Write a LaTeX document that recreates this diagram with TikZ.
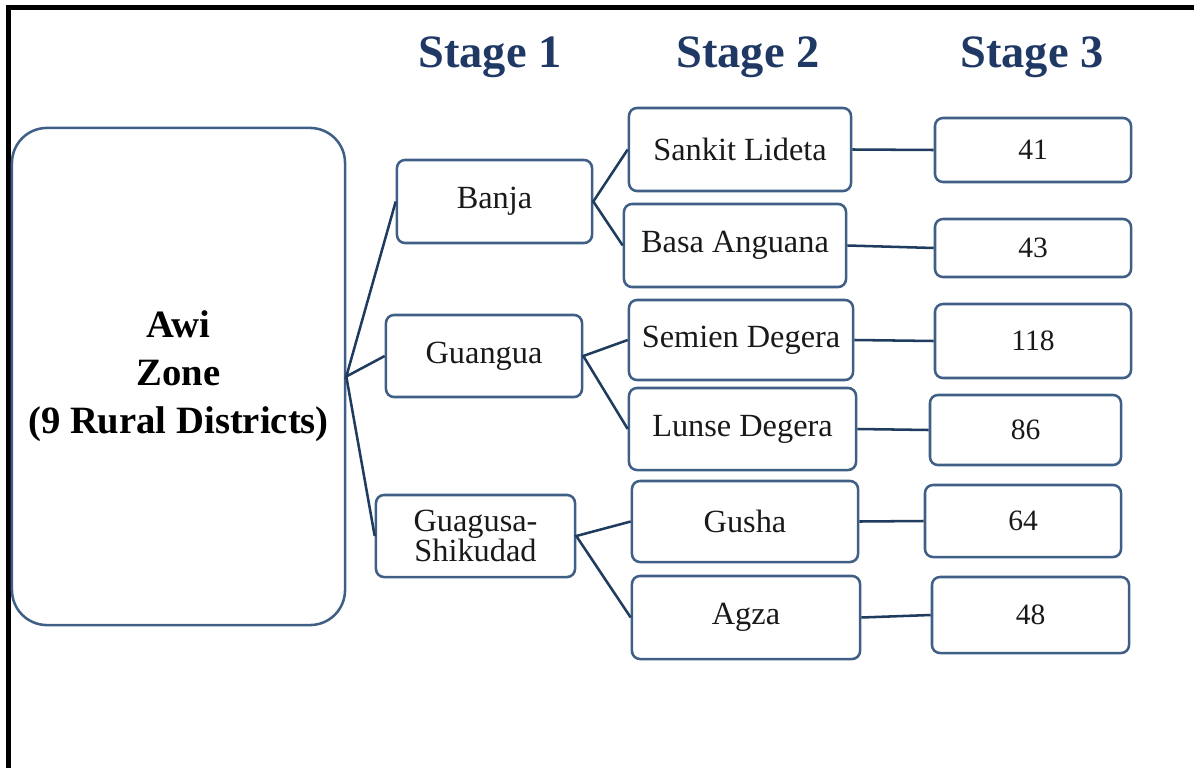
\documentclass[tikz,border=0pt]{standalone}
\usepackage{fontspec}
\setmainfont{Liberation Serif}
\definecolor{boxline}{HTML}{3F5F86}
\definecolor{linkline}{HTML}{1F3B5E}
\definecolor{stagetext}{HTML}{1F3864}
\tikzset{
  box/.style={draw=boxline,line width=1.8pt,rounded corners=0.2cm,inner sep=0pt,
    align=center,text=black!90,font=\fontsize{23}{20.5}\selectfont},
  numbox/.style={box,font=\fontsize{21}{21}\selectfont},
  bigbox/.style={draw=boxline,line width=1.8pt,rounded corners=0.875cm,inner sep=0pt,
    align=center,font=\bfseries\fontsize{27.5}{34}\selectfont},
  stagehead/.style={text=stagetext,font=\bfseries\fontsize{33}{33}\selectfont},
  link/.style={draw=linkline,line width=1.8pt}
}
\begin{document}
\begin{tikzpicture}[x=0.025cm,y=-0.025cm]
  \useasboundingbox (0,0) rectangle (1194,768);
  \draw[line width=3.6pt] (8.5,768) -- (8.5,7.5) -- (1194,7.5);

  \node[stagehead] (h1) at (490,57) {Stage 1};
  \node[stagehead] (h2) at (748,57) {Stage 2};
  \node[stagehead] (h3) at (1032,57) {Stage 3};

  \node[bigbox,minimum width=8.325cm,minimum height=12.425cm] (awi) at (178.5,376.5)
    {Awi\\Zone\\(9 Rural Districts)};

  \node[box,minimum width=4.875cm,minimum height=2.075cm] (banja) at (494.5,201.5) {Banja};
  \node[box,minimum width=4.9cm,minimum height=2.05cm] (guangua) at (484,356) {Guangua};
  \node[box,minimum width=4.975cm,minimum height=2.05cm] (guagusa) at (475.5,536) {Guagusa-\\Shikudad};

  \node[box,minimum width=5.55cm,minimum height=2.075cm] (sankit) at (740,149.5) {Sankit Lideta};
  \node[box,minimum width=5.55cm,minimum height=2.075cm] (basa) at (735,245.5) {Basa Anguana};
  \node[box,minimum width=5.6cm,minimum height=2cm] (semien) at (741,340) {Semien Degera};
  \node[box,minimum width=5.675cm,minimum height=2.05cm] (lunse) at (742.5,429) {Lunse Degera};
  \node[box,minimum width=5.65cm,minimum height=2.025cm] (gusha) at (745,521.5) {Gusha};
  \node[box,minimum width=5.7cm,minimum height=2.075cm] (agza) at (746,617.5) {Agza};

  \node[numbox,minimum width=4.9cm,minimum height=1.6cm] (n41) at (1033,150) {41};
  \node[numbox,minimum width=4.9cm,minimum height=1.45cm] (n43) at (1033,248) {43};
  \node[numbox,minimum width=4.9cm,minimum height=1.85cm] (n118) at (1033,341) {118};
  \node[numbox,minimum width=4.775cm,minimum height=1.75cm] (n86) at (1025.5,430) {86};
  \node[numbox,minimum width=4.9cm,minimum height=1.8cm] (n64) at (1023,521) {64};
  \node[numbox,minimum width=4.925cm,minimum height=1.9cm] (n48) at (1030.5,615) {48};

  \draw[link] (banja.west) -- (awi.east) -- (guangua.west);
  \draw[link] (awi.east) -- (guagusa.west);
  \draw[link] (sankit.west) -- (banja.east) -- (basa.west);
  \draw[link] (semien.west) -- (guangua.east) -- (lunse.west);
  \draw[link] (gusha.west) -- (guagusa.east) -- (agza.west);
  \draw[link] (sankit.east) -- (n41.west);
  \draw[link] (basa.east) -- (n43.west);
  \draw[link] (semien.east) -- (n118.west);
  \draw[link] (lunse.east) -- (n86.west);
  \draw[link] (gusha.east) -- (n64.west);
  \draw[link] (agza.east) -- (n48.west);
\end{tikzpicture}
\end{document}
